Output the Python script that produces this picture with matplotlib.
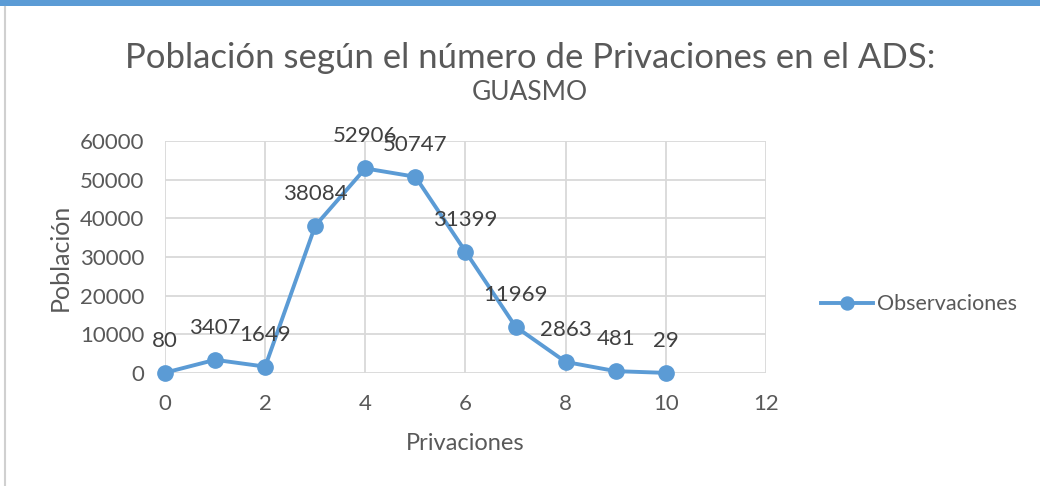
import matplotlib
matplotlib.use("Agg")
import matplotlib.pyplot as plt
import matplotlib.patches as patches

# data
privaciones = [0, 1, 2, 3, 4, 5, 6, 7, 8, 9, 10]
poblacion = [80, 3407, 1649, 38084, 52906, 50747, 31399, 11969, 2863, 481, 29]
x_ticks = [0, 2, 4, 6, 8, 10, 12]
y_ticks = [0, 10000, 20000, 30000, 40000, 50000, 60000]

BLUE = "#5B9BD5"
TEXT = "#595959"
GRID = "#D9D9D9"

plt.rcParams["font.family"] = ["Lato", "DejaVu Sans"]

fig = plt.figure(figsize=(10.4, 4.86), dpi=100)
ax = fig.add_axes([165 / 1040, 1 - 373 / 486, 601 / 1040, 232 / 486])

ax.plot(privaciones, poblacion, color=BLUE, linewidth=2.8, marker="o",
        markersize=11, zorder=3, label="Observaciones", clip_on=False)

for xv, yv in zip(privaciones, poblacion):
    ax.annotate(str(yv), (xv, yv), xytext=(0, 23), textcoords="offset points",
                ha="center", va="center", fontsize=16, color="#404040")

ax.set_xlim(0, 12)
ax.set_ylim(0, 60000)
ax.set_xticks(x_ticks)
ax.set_yticks(y_ticks)
ax.grid(True, color=GRID, linewidth=1.3)
ax.set_axisbelow(True)
for s in ax.spines.values():
    s.set_visible(False)
ax.tick_params(length=0, labelsize=16, labelcolor=TEXT, pad=15)

ax.set_xlabel("Privaciones", fontsize=17, color=TEXT, labelpad=14)
ax.set_ylabel("Población", fontsize=18, color=TEXT, labelpad=6)

fig.text(530 / 1040, 1 - 58 / 486,
         "Población según el número de Privaciones en el ADS:",
         ha="center", va="center", fontsize=25, color=TEXT)
fig.text(530 / 1040, 1 - 93 / 486, "GUASMO",
         ha="center", va="center", fontsize=19, color=TEXT)

ax.legend(loc="center left", bbox_to_anchor=(1.06, 0.297), frameon=False,
          fontsize=15.5, labelcolor=TEXT, handlelength=2.4, handletextpad=0.2,
          markerscale=0.85)

# frame decorations: blue top band and grey left edge
fig.patches.append(patches.Rectangle((0, 1 - 6 / 486), 1, 6 / 486,
                                     transform=fig.transFigure,
                                     facecolor=BLUE, edgecolor="none"))
fig.lines.append(plt.Line2D([4.5 / 1040, 4.5 / 1040], [0, 1 - 7 / 486],
                            transform=fig.transFigure, color="#D0D0D0",
                            linewidth=1.5))

fig.savefig("out.png", dpi=100)
